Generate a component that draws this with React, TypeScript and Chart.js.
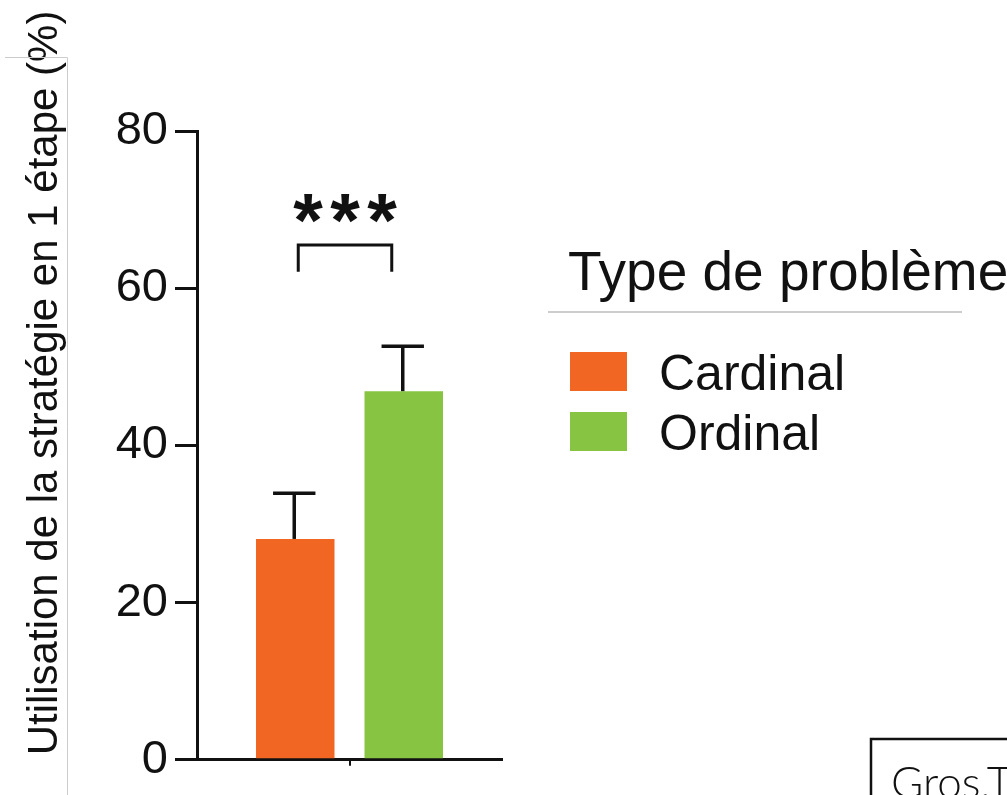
import { useEffect, useRef } from 'react';
import { Chart, registerables } from 'chart.js';

Chart.register(...registerables);

// ---- data ----
const categories = [''];
const seriesNames = ['Cardinal', 'Ordinal'];
const seriesValues = [[28.1], [46.9]];
const seriesErrors = [[5.8], [5.7]];
const seriesColors = ['#F26624', '#86C441'];
const yTicks = [0, 20, 40, 60, 80];
const yTitle = 'Utilisation de la stratégie en 1 étape (%)';
const legendTitle = 'Type de problème';
const significanceLabel = '***';
const bracketTopValue = 65.5;
const bracketLegValue = 62.1;
const sourceText = 'Gros,T';

const FONT = '"Liberation Sans", Arial, sans-serif';
const INK = '#111111';

const decorPlugin = {
  id: 'decor',
  afterDatasetsDraw(chart: any) {
    const ctx = chart.ctx;
    const y = chart.scales.y;
    ctx.save();
    ctx.strokeStyle = INK;
    ctx.lineCap = 'butt';
    // error bars
    chart.data.datasets.forEach((ds: any, i: number) => {
      const meta = chart.getDatasetMeta(i);
      meta.data.forEach((bar: any, j: number) => {
        const v = ds.data[j];
        const e = seriesErrors[i][j];
        const top = y.getPixelForValue(v + e);
        const half = bar.width * 0.27;
        const bx = bar.x - 1;
        ctx.lineWidth = 3.5;
        ctx.beginPath();
        ctx.moveTo(bx, bar.y);
        ctx.lineTo(bx, top);
        ctx.stroke();
        ctx.beginPath();
        ctx.moveTo(bx - half, top);
        ctx.lineTo(bx + half, top);
        ctx.stroke();
      });
    });
    // significance bracket
    const b0 = chart.getDatasetMeta(0).data[0];
    const b1 = chart.getDatasetMeta(1).data[0];
    const x0 = b0.x + 3;
    const x1 = b1.x - 12;
    const yB = y.getPixelForValue(bracketTopValue);
    const yL = y.getPixelForValue(bracketLegValue);
    ctx.lineWidth = 3;
    ctx.lineJoin = 'miter';
    ctx.beginPath();
    ctx.moveTo(x0, yL);
    ctx.lineTo(x0, yB);
    ctx.lineTo(x1, yB);
    ctx.lineTo(x1, yL);
    ctx.stroke();
    ctx.fillStyle = INK;
    ctx.font = `bold 76px ${FONT}`;
    ctx.textAlign = 'center';
    ctx.textBaseline = 'alphabetic';
    const chars = significanceLabel.split('');
    const cx = (x0 + x1) / 2;
    chars.forEach((c, k) => {
      ctx.fillText(c, cx + (k - (chars.length - 1) / 2) * 37, yB + 1);
    });
    ctx.restore();
  },
  afterDraw(chart: any) {
    const ctx = chart.ctx;
    ctx.save();
    // y axis title
    ctx.fillStyle = INK;
    ctx.font = `42px ${FONT}`;
    ctx.textAlign = 'center';
    ctx.textBaseline = 'alphabetic';
    ctx.translate(57, 383);
    ctx.rotate(-Math.PI / 2);
    ctx.fillText(yTitle, 0, 0);
    ctx.setTransform(1, 0, 0, 1, 0, 0);

    // legend
    ctx.textAlign = 'left';
    ctx.font = `55px ${FONT}`;
    ctx.fillText(legendTitle, 568, 290);
    ctx.strokeStyle = '#bdbdbd';
    ctx.lineWidth = 1.5;
    ctx.beginPath();
    ctx.moveTo(548, 312);
    ctx.lineTo(962, 312);
    ctx.stroke();
    ctx.font = `50px ${FONT}`;
    chart.data.datasets.forEach((ds: any, i: number) => {
      const top = 352 + i * 60;
      ctx.fillStyle = ds.backgroundColor;
      ctx.fillRect(570, top, 57, 39);
      ctx.fillStyle = INK;
      ctx.fillText(ds.label, 659, top + 38);
    });

    // frame remnants
    ctx.strokeStyle = '#cccccc';
    ctx.lineWidth = 1;
    ctx.beginPath();
    ctx.moveTo(5, 57.5);
    ctx.lineTo(67.5, 57.5);
    ctx.lineTo(67.5, 800);
    ctx.stroke();

    // source box
    ctx.strokeStyle = '#111';
    ctx.lineWidth = 2.5;
    ctx.strokeRect(871, 739, 160, 80);
    ctx.fillStyle = INK;
    ctx.font = '300 44px Lato, "Open Sans", sans-serif';
    ctx.fillText(sourceText, 891, 798);
    ctx.restore();
  },
};

export default function App() {
  const ref = useRef<HTMLCanvasElement>(null);
  useEffect(() => {
    if (!ref.current) return;
    const chart = new Chart(ref.current, {
      type: 'bar',
      data: {
        labels: categories,
        datasets: seriesNames.map((name, i) => ({
          label: name,
          data: seriesValues[i],
          backgroundColor: seriesColors[i],
          borderWidth: 0,
          categoryPercentage: 0.7115,
          barPercentage: 0.7235,
        })),
      },
      options: {
        animation: false,
        responsive: false,
        devicePixelRatio: 1,
        layout: { padding: { left: 0, top: 131, right: 505, bottom: 0 } },
        plugins: {
          legend: { display: false },
          tooltip: { enabled: false },
        },
        scales: {
          x: {
            type: 'category',
            offset: true,
            grid: {
              display: true,
              drawOnChartArea: false,
              drawTicks: true,
              offset: false,
              tickLength: 6,
              lineWidth: 2,
              color: '#111',
            },
            border: { display: true, color: '#111', width: 3 },
            ticks: { display: false },
            afterFit: (s: any) => {
              s.height = 34;
            },
          },
          y: {
            min: 0,
            max: 80,
            afterBuildTicks: (s: any) => {
              s.ticks = yTicks.map((v) => ({ value: v }));
            },
            grid: {
              display: true,
              drawOnChartArea: false,
              drawTicks: true,
              tickLength: 22,
              lineWidth: 3,
              color: '#111',
            },
            border: { display: true, color: '#111', width: 3 },
            ticks: {
              padding: 7,
              color: INK,
              font: { family: FONT, size: 47 },
            },
            afterFit: (s: any) => {
              s.width = 197;
            },
          },
        },
      },
      plugins: [decorPlugin],
    } as any);
    return () => chart.destroy();
  }, []);
  return (
    <div style={{ position: 'absolute', left: 0, top: 0, width: 1007, height: 795, overflow: 'hidden', background: '#fff' }}>
      <canvas ref={ref} width={1007} height={795} style={{ display: 'block' }} />
    </div>
  );
}
